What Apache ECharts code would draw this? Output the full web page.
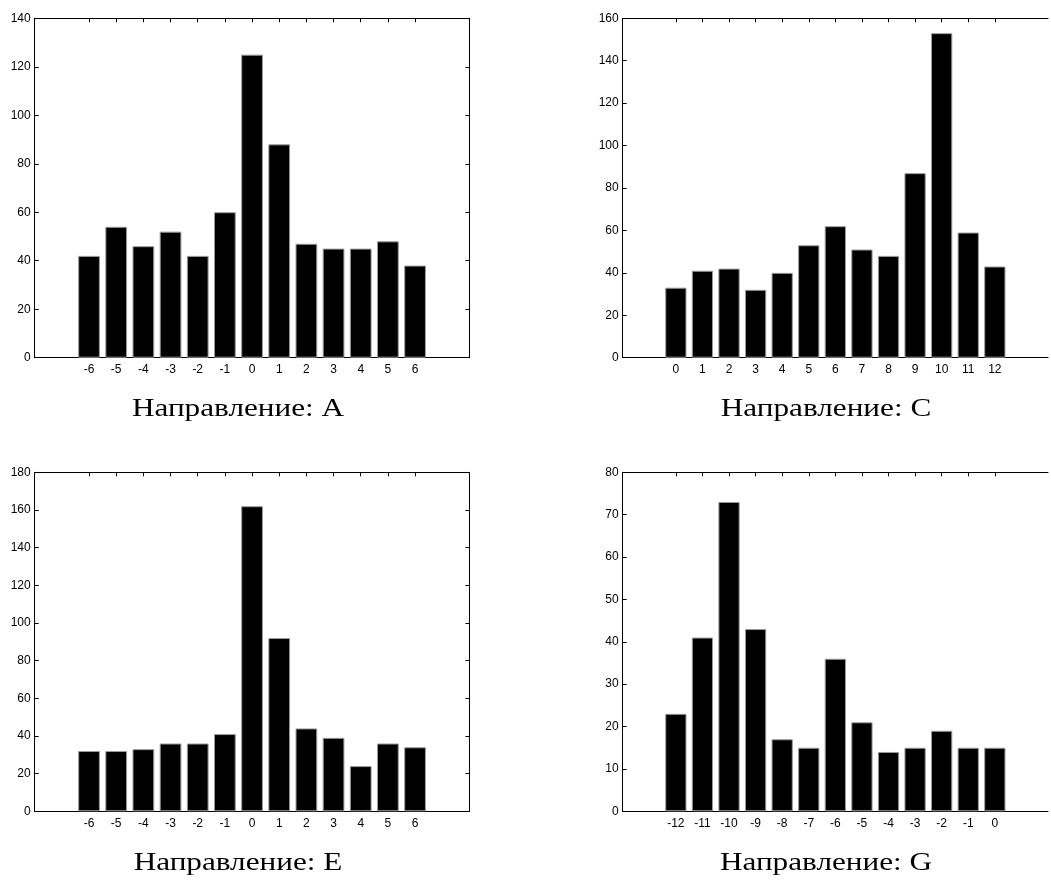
<!DOCTYPE html>
<html>
<head>
<meta charset="utf-8">
<script src="https://cdn.jsdelivr.net/npm/echarts@6/dist/echarts.min.js"></script>
<style>
html,body{margin:0;padding:0;background:#fff;}
#c{width:1051px;height:892px;}
</style>
</head>
<body>
<div id="c"></div>
<script>
// ---- data ----
const catsA = [-6,-5,-4,-3,-2,-1,0,1,2,3,4,5,6];
const valsA = [42,54,46,52,42,60,125,88,47,45,45,48,38];
const catsC = [0,1,2,3,4,5,6,7,8,9,10,11,12];
const valsC = [33,41,42,32,40,53,62,51,48,87,153,59,43];
const catsE = [-6,-5,-4,-3,-2,-1,0,1,2,3,4,5,6];
const valsE = [32,32,33,36,36,41,162,92,44,39,24,36,34];
const catsG = [-12,-11,-10,-9,-8,-7,-6,-5,-4,-3,-2,-1,0];
const valsG = [23,41,73,43,17,15,36,21,14,15,19,15,15];
const titles = ['Направление: A','Направление: C','Направление: E','Направление: G'];
const yMax = [140,160,180,80];
const yStep = [20,20,20,10];

const panels = [
  {cats:catsA, vals:valsA, grid:{left:34.7, top:18.3, width:434.7, height:339.4}, title:{x:238, y:396}, rightAxis:true},
  {cats:catsC, vals:valsC, grid:{left:622.7, top:18.3, width:427.5, height:339.4}, title:{x:826, y:396}, rightAxis:false},
  {cats:catsE, vals:valsE, grid:{left:34.7, top:472.3, width:434.7, height:339}, title:{x:238, y:850}, rightAxis:true},
  {cats:catsG, vals:valsG, grid:{left:622.7, top:472.3, width:427.5, height:339}, title:{x:826, y:850}, rightAxis:false}
];

const PAD = 2;
const option = {animation:false, backgroundColor:'#fff', grid:[], xAxis:[], yAxis:[], series:[], graphic:[]};
const lineStyle = {color:'#000', width:1};
const labelFont = {fontFamily:'Liberation Sans, Arial, sans-serif', fontSize:12, color:'#000'};

panels.forEach((p, i) => {
  const lo = p.cats[0] - PAD, hi = p.cats[p.cats.length-1] + PAD;
  const full = [];
  for (let v = lo; v <= hi; v++) full.push(String(v));
  const shown = new Set(p.cats.map(String));
  const data = full.map(v => {
    const k = p.cats.indexOf(Number(v));
    return k >= 0 ? p.vals[k] : null;
  });
  option.grid.push(Object.assign({containLabel:false}, p.grid));
  const tickFn = (idx, val) => shown.has(String(val));
  option.xAxis.push({
    type:'category', gridIndex:i, data:full, boundaryGap:false, position:'bottom',
    axisLine:{show:true, onZero:false, lineStyle},
    axisTick:{show:true, inside:true, length:4, interval:tickFn, lineStyle},
    axisLabel:Object.assign({interval:0, margin:6, formatter:v => shown.has(v) ? v : ''}, labelFont),
    splitLine:{show:false}
  });
  option.xAxis.push({
    type:'category', gridIndex:i, data:full, boundaryGap:false, position:'top',
    axisLine:{show:true, onZero:false, lineStyle},
    axisTick:{show:true, inside:true, length:4, interval:tickFn, lineStyle},
    axisLabel:{show:false}, splitLine:{show:false}
  });
  option.yAxis.push({
    type:'value', gridIndex:i, min:0, max:yMax[i], interval:yStep[i], position:'left',
    axisLine:{show:true, lineStyle},
    axisTick:{show:true, inside:true, length:4, lineStyle},
    axisLabel:Object.assign({margin:4}, labelFont),
    splitLine:{show:false}
  });
  option.yAxis.push({
    type:'value', gridIndex:i, min:0, max:yMax[i], interval:yStep[i], position:'right',
    show:p.rightAxis,
    axisLine:{show:true, lineStyle},
    axisTick:{show:true, inside:true, length:4, lineStyle},
    axisLabel:{show:false}, splitLine:{show:false}
  });
  option.series.push({
    type:'bar', xAxisIndex:2*i, yAxisIndex:2*i, data:data, barCategoryGap:'20%',
    itemStyle:{color:'#000', borderColor:'#9a9a9a', borderWidth:1}, z:3
  });
  option.graphic.push({
    type:'text', x:p.title.x, y:p.title.y, scaleX:1.2, scaleY:1,
    style:{text:titles[i], fill:'#000', textAlign:'center', textVerticalAlign:'top',
      font:'26px "Liberation Serif", "Times New Roman", serif'}
  });
});

const chart = echarts.init(document.getElementById('c'), null, {renderer:'canvas'});
chart.setOption(option);
</script>
</body>
</html>
